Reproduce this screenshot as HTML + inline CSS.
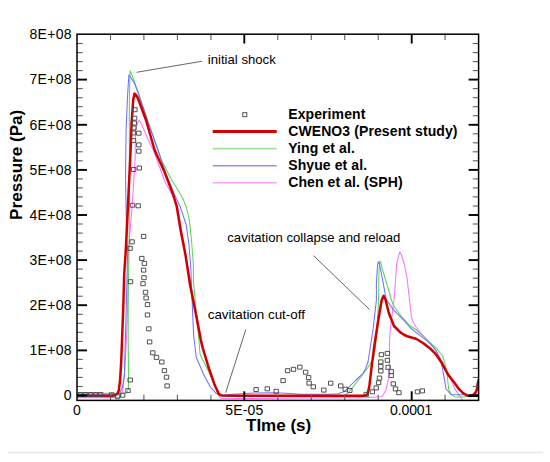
<!DOCTYPE html>
<html><head><meta charset="utf-8"><style>
html,body{margin:0;padding:0;background:#fff;width:550px;height:462px;overflow:hidden}
svg{display:block;font-family:"Liberation Sans",sans-serif}
</style></head><body>
<svg width="550" height="462" viewBox="0 0 550 462">
<rect width="550" height="462" fill="#fff"/>
<line x1="8" y1="452.5" x2="543" y2="452.5" stroke="#e6e6e6" stroke-width="1.5"/>
<defs><clipPath id="c"><rect x="77" y="34.2" width="401.6" height="366.2"/></clipPath></defs>
<g clip-path="url(#c)" fill="none" stroke-linejoin="round" stroke-linecap="round">
<polyline points="78,397.6 110,397.6 119,397.4 121.6,395.2 123.2,387.6 124.9,367.9 126.4,340 127.2,320 127.8,300 128.2,255 129.3,240 131.9,210 133.5,185 135.1,160 135.5,130.1 137,124 139,120.3 140.4,121.7 150.3,144.2 153.3,150 165,181.7 172.8,196 177.5,206.4 181.5,230 191,285 201.6,340 203.4,348 209.2,367.5 214.8,384.4 218,394.5 221,398.3 240,398.6 300,397.9 368,397.6 380,396.8 382.3,396.3 385,391.8 386.2,389.2 388.6,378.2 389.4,369 389.4,345 390,332.5 392,315 394,300 395.3,284 396.6,264.5 398.5,256 399.8,251.8 401.5,255 404.4,264.5 407,277.5 409.5,300 410.6,310 411.5,317 413,321.5 416,327 420,332 426.6,339.5 432.7,346.5 435.5,350.1 442.6,362.6 449.6,376.7 455,389.1 461.2,398 463,401" stroke="#ff70ff" stroke-width="1.05"/>
<polyline points="78,393.2 122,393.3 124.7,393.3 127,392.2 128.4,389 128.5,375 128.2,340 128.2,300 129,250 129.5,200 129.4,150 129.3,110 129.6,85 130.2,70.8 132,75 134.5,82 138.8,93.8 147.4,120 158.2,150 161.2,159.5 166,169 171,179 177,188.5 182.9,198.4 186.5,208 189.4,220.1 190.6,232 191.5,240 193.3,264 193.4,280 196,310 198.5,335 200.1,354.5 208.6,371.4 217.7,392.1 221,395.5 226,396.4 240,396.5 300,396.5 342,396.3 347.5,393.5 351.8,388.6 361,376.8 365.4,371 369,366 373.2,359.3 375.8,345 377.5,320 378.6,300 379,271 379.7,261.4 380.6,262 382.9,271 388.8,290.5 391.4,300 394,306.5 401.8,316.9 410,325.8 416,329.5 428.2,340.9 436.5,348.5 442.6,356 445,364 447.3,376 448.6,389 451,394.5 455,396.9 463,397 472,395.6 478,395.2" stroke="#5ad55a" stroke-width="1.05"/>
<polyline points="78,394.2 116,394.2 119.4,393.4 122.4,387.6 124.4,375.5 125.2,345 125.8,325 126.9,282.5 127.7,250 126.7,240 126.2,215 125.6,180 125.7,160 126.1,130 126.5,120 127.6,95 128.3,84 128.9,74.8 130.5,77 134.5,83.4 140.6,100 147.3,120 157.9,150 165.6,172.6 174,193.4 180.6,207.7 186.2,225 189,245 190.8,268 191.5,285 192.3,305 193.6,335 196.2,357 203.4,374 210,386.5 216.4,393.6 220.5,395.4 230,394.5 245,393.6 255,392.9 275,392.7 290,393.5 300,394.2 330,394.3 338,393.8 344.5,391.4 355.5,380.5 362.8,373.6 365.5,369 368,362 370.6,345 373,330 376.4,300 376.4,284 377.3,268 378.1,261.8 379.5,264 382.9,281.4 386.2,299.5 394,310.4 404.4,320.8 410,327.5 419.1,334.8 428.2,341.7 435.8,350 440.6,359.5 443.4,373.4 446,389 451.2,394.6 459,394.7 478,394.6" stroke="#7070ff" stroke-width="1.05"/>
<polyline points="87,395.8 112,395.8 115.6,395 117.5,393.6 118.8,390.6 120.1,380 121.3,360 122.4,330 123.2,310 124.2,274 125.8,250 128,205 130.6,150 131.6,123 133.2,100 134.5,93.6 135.6,94.5 137.7,97.7 146,120 154.6,150 164.8,172.6 173.4,195.3 176.7,206.4 180.6,230 185.5,255 190.1,285 195.5,312 200.8,340 202.7,348 208.6,367.5 214.8,385.3 219,394.2 222,395.6 240,395.7 300,395.8 364,395.7 366.5,395 367.6,393.8 369.3,386.6 371.9,364.5 374.5,345 378,322 381.6,300.5 383.6,295.8 385.5,299.5 388.8,313 394,326 400.5,332.5 404.4,335 407.1,336.2 412.4,337.8 416,338.8 423,343 430.1,348.4 435.5,353.9 441.7,362.8 447.9,374.2 451.5,379 455,383.6 458.8,388.9 462.6,392.7 467.1,395.4 470.2,396.1 473.2,395 475.5,392.7 477,388.9 477.7,383.6 478.6,380" stroke="#d00000" stroke-width="2.5"/>
<line x1="78" y1="395.8" x2="86.5" y2="395.8" stroke="#000" stroke-width="2.4"/>
<line x1="469.3" y1="395.9" x2="477.6" y2="395.9" stroke="#000" stroke-width="2.2"/>
<g stroke="#484848" stroke-width="0.95">
<rect x="133.1" y="107.7" width="4" height="4"/>
<rect x="132.8" y="116.2" width="4" height="4"/>
<rect x="132.6" y="121.1" width="4" height="4"/>
<rect x="132.1" y="126" width="4" height="4"/>
<rect x="131.7" y="130.9" width="4" height="4"/>
<rect x="137" y="131.2" width="4" height="4"/>
<rect x="131.7" y="138.6" width="4" height="4"/>
<rect x="137" y="142.9" width="4" height="4"/>
<rect x="137" y="149.2" width="4" height="4"/>
<rect x="131.8" y="167.5" width="4" height="4"/>
<rect x="137.5" y="166" width="4" height="4"/>
<rect x="130.7" y="203.2" width="4" height="4"/>
<rect x="136.4" y="203.8" width="4" height="4"/>
<rect x="141.8" y="234.4" width="4" height="4"/>
<rect x="130.3" y="239.8" width="4" height="4"/>
<rect x="128.3" y="246.3" width="4" height="4"/>
<rect x="140" y="256.4" width="4" height="4"/>
<rect x="142.6" y="261.4" width="4" height="4"/>
<rect x="141.8" y="268.1" width="4" height="4"/>
<rect x="142.2" y="275.7" width="4" height="4"/>
<rect x="128.7" y="279.7" width="4" height="4"/>
<rect x="141.2" y="281.7" width="4" height="4"/>
<rect x="143.7" y="290.3" width="4" height="4"/>
<rect x="144.3" y="296" width="4" height="4"/>
<rect x="145.7" y="302.6" width="4" height="4"/>
<rect x="145.7" y="312.9" width="4" height="4"/>
<rect x="147" y="326.8" width="4" height="4"/>
<rect x="147.8" y="339.9" width="4" height="4"/>
<rect x="151" y="350.8" width="4" height="4"/>
<rect x="154.7" y="355.4" width="4" height="4"/>
<rect x="160" y="360" width="4" height="4"/>
<rect x="162.6" y="368.6" width="4" height="4"/>
<rect x="164.7" y="375.2" width="4" height="4"/>
<rect x="165.3" y="383.9" width="4" height="4"/>
<rect x="128.4" y="378" width="4" height="4"/>
<rect x="126.2" y="388.6" width="4" height="4"/>
<rect x="120.8" y="393.2" width="4" height="4"/>
<rect x="115.8" y="394.7" width="4" height="4"/>
<rect x="109.8" y="392.8" width="4" height="4"/>
<rect x="78.6" y="392.5" width="4" height="4"/>
<rect x="83.8" y="392.5" width="4" height="4"/>
<rect x="88.8" y="392.5" width="4" height="4"/>
<rect x="93.8" y="392.5" width="4" height="4"/>
<rect x="98.8" y="392.5" width="4" height="4"/>
<rect x="254.3" y="387.5" width="4" height="4"/>
<rect x="265.5" y="386.8" width="4" height="4"/>
<rect x="274.4" y="389.3" width="4" height="4"/>
<rect x="281.3" y="378.6" width="4" height="4"/>
<rect x="285.8" y="368.7" width="4" height="4"/>
<rect x="291.7" y="367.3" width="4" height="4"/>
<rect x="298" y="365.1" width="4" height="4"/>
<rect x="303.8" y="370.2" width="4" height="4"/>
<rect x="306.8" y="375.6" width="4" height="4"/>
<rect x="307.3" y="381.1" width="4" height="4"/>
<rect x="311.5" y="384.8" width="4" height="4"/>
<rect x="322" y="388.1" width="4" height="4"/>
<rect x="328.9" y="381.2" width="4" height="4"/>
<rect x="338.9" y="383.9" width="4" height="4"/>
<rect x="343.5" y="387.2" width="4" height="4"/>
<rect x="348" y="388.5" width="4" height="4"/>
<rect x="364.4" y="392.4" width="4" height="4"/>
<rect x="370.5" y="389.8" width="4" height="4"/>
<rect x="374.4" y="385.9" width="4" height="4"/>
<rect x="376.8" y="380.7" width="4" height="4"/>
<rect x="377.7" y="376.1" width="4" height="4"/>
<rect x="379" y="369" width="4" height="4"/>
<rect x="379" y="364.4" width="4" height="4"/>
<rect x="379" y="359.9" width="4" height="4"/>
<rect x="379.6" y="352.7" width="4" height="4"/>
<rect x="385.6" y="351.4" width="4" height="4"/>
<rect x="385.6" y="358.3" width="4" height="4"/>
<rect x="386.3" y="365.3" width="4" height="4"/>
<rect x="389.4" y="369.6" width="4" height="4"/>
<rect x="389.4" y="373.6" width="4" height="4"/>
<rect x="391.5" y="381.8" width="4" height="4"/>
<rect x="393.7" y="386.9" width="4" height="4"/>
<rect x="397.1" y="390.7" width="4" height="4"/>
<rect x="415.7" y="389.8" width="4" height="4"/>
<rect x="420.5" y="388.9" width="4" height="4"/>
</g>
</g>
<g stroke="#000" fill="none">
<line x1="110.5" y1="400.5" x2="110.5" y2="394.7" stroke="#606060" stroke-width="1.1"/>
<line x1="110.5" y1="34.2" x2="110.5" y2="40" stroke="#606060" stroke-width="1.1"/>
<line x1="143.9" y1="400.5" x2="143.9" y2="394.7" stroke="#606060" stroke-width="1.1"/>
<line x1="143.9" y1="34.2" x2="143.9" y2="40" stroke="#606060" stroke-width="1.1"/>
<line x1="177.4" y1="400.5" x2="177.4" y2="394.7" stroke="#606060" stroke-width="1.1"/>
<line x1="177.4" y1="34.2" x2="177.4" y2="40" stroke="#606060" stroke-width="1.1"/>
<line x1="210.9" y1="400.5" x2="210.9" y2="394.7" stroke="#606060" stroke-width="1.1"/>
<line x1="210.9" y1="34.2" x2="210.9" y2="40" stroke="#606060" stroke-width="1.1"/>
<line x1="244.3" y1="400.5" x2="244.3" y2="391.3" stroke="#000" stroke-width="1.9"/>
<line x1="244.3" y1="34.2" x2="244.3" y2="43.5" stroke="#000" stroke-width="1.9"/>
<line x1="277.8" y1="400.5" x2="277.8" y2="394.7" stroke="#606060" stroke-width="1.1"/>
<line x1="277.8" y1="34.2" x2="277.8" y2="40" stroke="#606060" stroke-width="1.1"/>
<line x1="311.3" y1="400.5" x2="311.3" y2="394.7" stroke="#606060" stroke-width="1.1"/>
<line x1="311.3" y1="34.2" x2="311.3" y2="40" stroke="#606060" stroke-width="1.1"/>
<line x1="344.7" y1="400.5" x2="344.7" y2="394.7" stroke="#606060" stroke-width="1.1"/>
<line x1="344.7" y1="34.2" x2="344.7" y2="40" stroke="#606060" stroke-width="1.1"/>
<line x1="378.2" y1="400.5" x2="378.2" y2="394.7" stroke="#606060" stroke-width="1.1"/>
<line x1="378.2" y1="34.2" x2="378.2" y2="40" stroke="#606060" stroke-width="1.1"/>
<line x1="411.7" y1="400.5" x2="411.7" y2="391.3" stroke="#000" stroke-width="1.9"/>
<line x1="411.7" y1="34.2" x2="411.7" y2="43.5" stroke="#000" stroke-width="1.9"/>
<line x1="445.1" y1="400.5" x2="445.1" y2="394.7" stroke="#606060" stroke-width="1.1"/>
<line x1="445.1" y1="34.2" x2="445.1" y2="40" stroke="#606060" stroke-width="1.1"/>
<line x1="77" y1="395.5" x2="87" y2="395.5" stroke="#000" stroke-width="1.9"/>
<line x1="478.6" y1="395.5" x2="468.6" y2="395.5" stroke="#000" stroke-width="1.9"/>
<line x1="77" y1="386.5" x2="82.8" y2="386.5" stroke="#606060" stroke-width="1.1"/>
<line x1="478.6" y1="386.5" x2="472.8" y2="386.5" stroke="#606060" stroke-width="1.1"/>
<line x1="77" y1="377.4" x2="82.8" y2="377.4" stroke="#606060" stroke-width="1.1"/>
<line x1="478.6" y1="377.4" x2="472.8" y2="377.4" stroke="#606060" stroke-width="1.1"/>
<line x1="77" y1="368.4" x2="82.8" y2="368.4" stroke="#606060" stroke-width="1.1"/>
<line x1="478.6" y1="368.4" x2="472.8" y2="368.4" stroke="#606060" stroke-width="1.1"/>
<line x1="77" y1="359.4" x2="82.8" y2="359.4" stroke="#606060" stroke-width="1.1"/>
<line x1="478.6" y1="359.4" x2="472.8" y2="359.4" stroke="#606060" stroke-width="1.1"/>
<line x1="77" y1="350.4" x2="87" y2="350.4" stroke="#000" stroke-width="1.9"/>
<line x1="478.6" y1="350.4" x2="468.6" y2="350.4" stroke="#000" stroke-width="1.9"/>
<line x1="77" y1="341.4" x2="82.8" y2="341.4" stroke="#606060" stroke-width="1.1"/>
<line x1="478.6" y1="341.4" x2="472.8" y2="341.4" stroke="#606060" stroke-width="1.1"/>
<line x1="77" y1="332.3" x2="82.8" y2="332.3" stroke="#606060" stroke-width="1.1"/>
<line x1="478.6" y1="332.3" x2="472.8" y2="332.3" stroke="#606060" stroke-width="1.1"/>
<line x1="77" y1="323.3" x2="82.8" y2="323.3" stroke="#606060" stroke-width="1.1"/>
<line x1="478.6" y1="323.3" x2="472.8" y2="323.3" stroke="#606060" stroke-width="1.1"/>
<line x1="77" y1="314.3" x2="82.8" y2="314.3" stroke="#606060" stroke-width="1.1"/>
<line x1="478.6" y1="314.3" x2="472.8" y2="314.3" stroke="#606060" stroke-width="1.1"/>
<line x1="77" y1="305.2" x2="87" y2="305.2" stroke="#000" stroke-width="1.9"/>
<line x1="478.6" y1="305.2" x2="468.6" y2="305.2" stroke="#000" stroke-width="1.9"/>
<line x1="77" y1="296.2" x2="82.8" y2="296.2" stroke="#606060" stroke-width="1.1"/>
<line x1="478.6" y1="296.2" x2="472.8" y2="296.2" stroke="#606060" stroke-width="1.1"/>
<line x1="77" y1="287.2" x2="82.8" y2="287.2" stroke="#606060" stroke-width="1.1"/>
<line x1="478.6" y1="287.2" x2="472.8" y2="287.2" stroke="#606060" stroke-width="1.1"/>
<line x1="77" y1="278.2" x2="82.8" y2="278.2" stroke="#606060" stroke-width="1.1"/>
<line x1="478.6" y1="278.2" x2="472.8" y2="278.2" stroke="#606060" stroke-width="1.1"/>
<line x1="77" y1="269.1" x2="82.8" y2="269.1" stroke="#606060" stroke-width="1.1"/>
<line x1="478.6" y1="269.1" x2="472.8" y2="269.1" stroke="#606060" stroke-width="1.1"/>
<line x1="77" y1="260.1" x2="87" y2="260.1" stroke="#000" stroke-width="1.9"/>
<line x1="478.6" y1="260.1" x2="468.6" y2="260.1" stroke="#000" stroke-width="1.9"/>
<line x1="77" y1="251.1" x2="82.8" y2="251.1" stroke="#606060" stroke-width="1.1"/>
<line x1="478.6" y1="251.1" x2="472.8" y2="251.1" stroke="#606060" stroke-width="1.1"/>
<line x1="77" y1="242.1" x2="82.8" y2="242.1" stroke="#606060" stroke-width="1.1"/>
<line x1="478.6" y1="242.1" x2="472.8" y2="242.1" stroke="#606060" stroke-width="1.1"/>
<line x1="77" y1="233.1" x2="82.8" y2="233.1" stroke="#606060" stroke-width="1.1"/>
<line x1="478.6" y1="233.1" x2="472.8" y2="233.1" stroke="#606060" stroke-width="1.1"/>
<line x1="77" y1="224" x2="82.8" y2="224" stroke="#606060" stroke-width="1.1"/>
<line x1="478.6" y1="224" x2="472.8" y2="224" stroke="#606060" stroke-width="1.1"/>
<line x1="77" y1="215" x2="87" y2="215" stroke="#000" stroke-width="1.9"/>
<line x1="478.6" y1="215" x2="468.6" y2="215" stroke="#000" stroke-width="1.9"/>
<line x1="77" y1="206" x2="82.8" y2="206" stroke="#606060" stroke-width="1.1"/>
<line x1="478.6" y1="206" x2="472.8" y2="206" stroke="#606060" stroke-width="1.1"/>
<line x1="77" y1="196.9" x2="82.8" y2="196.9" stroke="#606060" stroke-width="1.1"/>
<line x1="478.6" y1="196.9" x2="472.8" y2="196.9" stroke="#606060" stroke-width="1.1"/>
<line x1="77" y1="187.9" x2="82.8" y2="187.9" stroke="#606060" stroke-width="1.1"/>
<line x1="478.6" y1="187.9" x2="472.8" y2="187.9" stroke="#606060" stroke-width="1.1"/>
<line x1="77" y1="178.9" x2="82.8" y2="178.9" stroke="#606060" stroke-width="1.1"/>
<line x1="478.6" y1="178.9" x2="472.8" y2="178.9" stroke="#606060" stroke-width="1.1"/>
<line x1="77" y1="169.9" x2="87" y2="169.9" stroke="#000" stroke-width="1.9"/>
<line x1="478.6" y1="169.9" x2="468.6" y2="169.9" stroke="#000" stroke-width="1.9"/>
<line x1="77" y1="160.8" x2="82.8" y2="160.8" stroke="#606060" stroke-width="1.1"/>
<line x1="478.6" y1="160.8" x2="472.8" y2="160.8" stroke="#606060" stroke-width="1.1"/>
<line x1="77" y1="151.8" x2="82.8" y2="151.8" stroke="#606060" stroke-width="1.1"/>
<line x1="478.6" y1="151.8" x2="472.8" y2="151.8" stroke="#606060" stroke-width="1.1"/>
<line x1="77" y1="142.8" x2="82.8" y2="142.8" stroke="#606060" stroke-width="1.1"/>
<line x1="478.6" y1="142.8" x2="472.8" y2="142.8" stroke="#606060" stroke-width="1.1"/>
<line x1="77" y1="133.8" x2="82.8" y2="133.8" stroke="#606060" stroke-width="1.1"/>
<line x1="478.6" y1="133.8" x2="472.8" y2="133.8" stroke="#606060" stroke-width="1.1"/>
<line x1="77" y1="124.8" x2="87" y2="124.8" stroke="#000" stroke-width="1.9"/>
<line x1="478.6" y1="124.8" x2="468.6" y2="124.8" stroke="#000" stroke-width="1.9"/>
<line x1="77" y1="115.7" x2="82.8" y2="115.7" stroke="#606060" stroke-width="1.1"/>
<line x1="478.6" y1="115.7" x2="472.8" y2="115.7" stroke="#606060" stroke-width="1.1"/>
<line x1="77" y1="106.7" x2="82.8" y2="106.7" stroke="#606060" stroke-width="1.1"/>
<line x1="478.6" y1="106.7" x2="472.8" y2="106.7" stroke="#606060" stroke-width="1.1"/>
<line x1="77" y1="97.7" x2="82.8" y2="97.7" stroke="#606060" stroke-width="1.1"/>
<line x1="478.6" y1="97.7" x2="472.8" y2="97.7" stroke="#606060" stroke-width="1.1"/>
<line x1="77" y1="88.6" x2="82.8" y2="88.6" stroke="#606060" stroke-width="1.1"/>
<line x1="478.6" y1="88.6" x2="472.8" y2="88.6" stroke="#606060" stroke-width="1.1"/>
<line x1="77" y1="79.6" x2="87" y2="79.6" stroke="#000" stroke-width="1.9"/>
<line x1="478.6" y1="79.6" x2="468.6" y2="79.6" stroke="#000" stroke-width="1.9"/>
<line x1="77" y1="70.6" x2="82.8" y2="70.6" stroke="#606060" stroke-width="1.1"/>
<line x1="478.6" y1="70.6" x2="472.8" y2="70.6" stroke="#606060" stroke-width="1.1"/>
<line x1="77" y1="61.6" x2="82.8" y2="61.6" stroke="#606060" stroke-width="1.1"/>
<line x1="478.6" y1="61.6" x2="472.8" y2="61.6" stroke="#606060" stroke-width="1.1"/>
<line x1="77" y1="52.6" x2="82.8" y2="52.6" stroke="#606060" stroke-width="1.1"/>
<line x1="478.6" y1="52.6" x2="472.8" y2="52.6" stroke="#606060" stroke-width="1.1"/>
<line x1="77" y1="43.5" x2="82.8" y2="43.5" stroke="#606060" stroke-width="1.1"/>
<line x1="478.6" y1="43.5" x2="472.8" y2="43.5" stroke="#606060" stroke-width="1.1"/>
</g>
<rect x="77" y="34.2" width="401.6" height="366.2" fill="none" stroke="#000" stroke-width="1.5"/>
<g font-size="14" fill="#000" letter-spacing="0.32">
<text x="71.9" y="400.3" text-anchor="end">0</text>
<text x="71.9" y="355.2" text-anchor="end">1E+08</text>
<text x="71.9" y="310.1" text-anchor="end">2E+08</text>
<text x="71.9" y="264.9" text-anchor="end">3E+08</text>
<text x="71.9" y="219.8" text-anchor="end">4E+08</text>
<text x="71.9" y="174.7" text-anchor="end">5E+08</text>
<text x="71.9" y="129.6" text-anchor="end">6E+08</text>
<text x="71.9" y="84.4" text-anchor="end">7E+08</text>
<text x="71.9" y="39.3" text-anchor="end">8E+08</text>
<text x="77" y="415" text-anchor="middle" letter-spacing="0">0</text>
<text x="244.3" y="415" text-anchor="middle" letter-spacing="0.15">5E-05</text>
<text x="411.1" y="415" text-anchor="middle" letter-spacing="-0.1">0.0001</text>
</g>
<text x="246" y="431" font-size="17" font-weight="bold">TIme (s)</text>
<text transform="translate(22.4,219.9) rotate(-90)" font-size="17.1" font-weight="bold">Pressure (Pa)</text>
<g font-size="12" fill="#000">
<text x="207.8" y="63.8" font-size="13.15">initial shock</text>
<text x="207.7" y="319.3" font-size="13.4">cavitation cut-off</text>
<text x="227.3" y="242.1" font-size="13.15">cavitation collapse and reload</text>
</g>
<g stroke="#555" stroke-width="0.9">
<line x1="136.6" y1="72.3" x2="202.3" y2="61.2"/>
<line x1="245.8" y1="329.5" x2="225.7" y2="392.7"/>
<line x1="313.5" y1="255.6" x2="369.6" y2="309.6"/>
</g>
<g>
<rect x="242.8" y="112.7" width="4" height="4" fill="none" stroke="#484848" stroke-width="0.95"/>
<line x1="212.7" y1="131.6" x2="276.7" y2="131.6" stroke="#d00000" stroke-width="3"/>
<line x1="212.7" y1="148.6" x2="276.7" y2="148.6" stroke="#98e498" stroke-width="1.6"/>
<line x1="212.7" y1="165.7" x2="276.7" y2="165.7" stroke="#9090f4" stroke-width="1.6"/>
<line x1="212.7" y1="182.8" x2="276.7" y2="182.8" stroke="#ffa0ff" stroke-width="1.6"/>
</g>
<g font-size="14" font-weight="bold" fill="#000" letter-spacing="0.1">
<text x="288.2" y="119">Experiment</text>
<text x="288.2" y="136">CWENO3 (Present study)</text>
<text x="288.2" y="153">Ying et al.</text>
<text x="288.2" y="170">Shyue et al.</text>
<text x="288.2" y="187">Chen et al. (SPH)</text>
</g>
</svg>
</body></html>
